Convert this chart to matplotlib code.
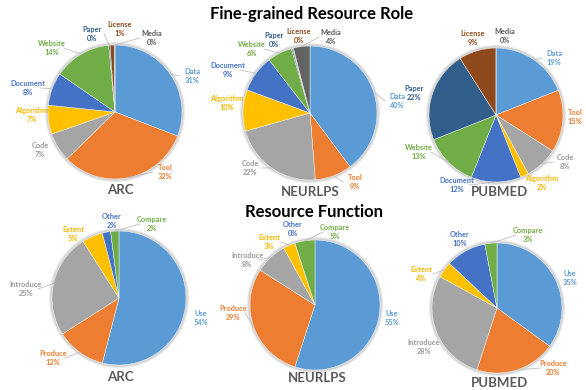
import numpy as np
import matplotlib
matplotlib.use('Agg')
import matplotlib.pyplot as plt

plt.rcParams['font.family'] = ['Lato', 'DejaVu Sans']

W, H = 586, 390

# ---- data ----
role_names = ['Data', 'Tool', 'Code', 'Algorithm', 'Document', 'Website', 'Paper', 'License', 'Media']
role_arc = [31, 32, 7, 7, 8, 14, 0.3, 1, 0.2]
role_neurlps = [40, 9, 22, 10, 9, 6, 0.3, 0.2, 4]
role_pubmed = [19, 15, 8, 2, 12, 13, 22, 9, 0]

func_names = ['Use', 'Produce', 'Introduce', 'Extent', 'Other', 'Compare']
func_arc = [54, 12, 25, 5, 2, 2]
func_neurlps = [55, 29, 8, 3, 0, 5]
func_pubmed = [35, 20, 28, 4, 10, 3]

role_colors = ['#5B9BD5', '#ED7D31', '#A5A5A5', '#FFC000', '#4472C4', '#70AD47', '#325E8C', '#8E4A1C', '#636363']
role_text = ['#5B9BD5', '#ED7D31', '#999999', '#F5B800', '#4472C4', '#70AD47', '#325E8C', '#8E4A1C', '#595959']
func_colors = ['#5B9BD5', '#ED7D31', '#A5A5A5', '#FFC000', '#4472C4', '#70AD47']
func_text = ['#5B9BD5', '#ED7D31', '#999999', '#F5B800', '#4472C4', '#70AD47']

# ---- layout (pixel coords, y down) ----
charts = [
    dict(name='ARC', vals=role_arc, labels=role_names, colors=role_colors, tcol=role_text,
         c=(115, 112), r=67, title=(120, 190),
         lab=[(192, 76), (165, 172), (40, 150), (32, 115), (28, 88), (52, 48), (92, 34), (120, 29), (152, 38)]),
    dict(name='NEURLPS', vals=role_neurlps, labels=role_names, colors=role_colors, tcol=role_text,
         c=(310, 113), r=67, title=(310, 192),
         lab=[(397, 101), (355, 182), (250, 168), (227, 103), (228, 70), (252, 49), (274, 40), (299, 36), (331, 37)]),
    dict(name='PUBMED', vals=role_pubmed, labels=role_names, colors=role_colors, tcol=role_text,
         c=(496, 115), r=67, title=(500, 192),
         lab=[(554, 58), (575, 117), (565, 162), (542, 183), (457, 185), (419, 152), (414, 93), (473, 38), (505, 36)]),
    dict(name='ARC', vals=func_arc, labels=func_names, colors=func_colors, tcol=func_text,
         c=(119, 298), r=67, title=(120, 377),
         lab=[(201, 318), (53, 358), (26, 289), (73, 234), (112, 221), (152, 224)]),
    dict(name='NEURLPS', vals=func_neurlps, labels=func_names, colors=func_colors, tcol=func_text,
         c=(315, 305), r=65, title=(317, 378),
         lab=[(392, 318), (233, 313), (247, 260), (269, 242), (293, 229), (335, 232)]),
    dict(name='PUBMED', vals=func_pubmed, labels=func_names, colors=func_colors, tcol=func_text,
         c=(497, 308), r=65, title=(500, 383),
         lab=[(570, 278), (553, 368), (424, 347), (421, 274), (460, 239), (528, 235)]),
]

fig = plt.figure(figsize=(W / 100, H / 100), dpi=100)
ax = fig.add_axes([0, 0, 1, 1])

for ch in charts:
    cx, cy = ch['c'][0], H - ch['c'][1]
    r = ch['r']
    # soft shadow ring
    ax.add_patch(plt.Circle((cx, cy), r + 2.2, color='#e6e6e6', zorder=0))
    ax.add_patch(plt.Circle((cx, cy), r + 1.0, color='#d4d4d4', zorder=0))
    wedges, _ = ax.pie(ch['vals'], colors=ch['colors'], startangle=90, counterclock=False,
                       center=(cx, cy), radius=r,
                       wedgeprops=dict(edgecolor='white', linewidth=0.3))
    for w, name, v, tc, (lx, ly) in zip(wedges, ch['labels'], ch['vals'], ch['tcol'], ch['lab']):
        ly = H - ly
        ang = np.deg2rad((w.theta1 + w.theta2) / 2)
        ex, ey = cx + r * np.cos(ang), cy + r * np.sin(ang)
        d = np.hypot(lx - ex, ly - ey)
        if d > 20:
            tx = lx - 12 if lx > ex else lx + 12
            ax.plot([ex, tx], [ey, ly], color='#BFBFBF', lw=0.6, zorder=3)
        ax.text(lx, ly, f'{name}\n{v:.0f}%', color=tc, fontsize=5.3, fontweight='bold',
                ha='center', va='center', linespacing=1.25, zorder=4)
    ax.text(ch['title'][0], H - ch['title'][1], ch['name'], fontsize=9.5, fontweight='bold',
            color='#595959', ha='center', va='center')

ax.text(312, H - 14, 'Fine-grained Resource Role', fontsize=12, fontweight='bold',
        color='black', ha='center', va='center')
ax.text(314, H - 212, 'Resource Function', fontsize=12, fontweight='bold',
        color='black', ha='center', va='center')

ax.set_xlim(0, W)
ax.set_ylim(0, H)
ax.set_aspect('equal')
ax.axis('off')

fig.savefig('out.png', dpi=100, facecolor='white')
